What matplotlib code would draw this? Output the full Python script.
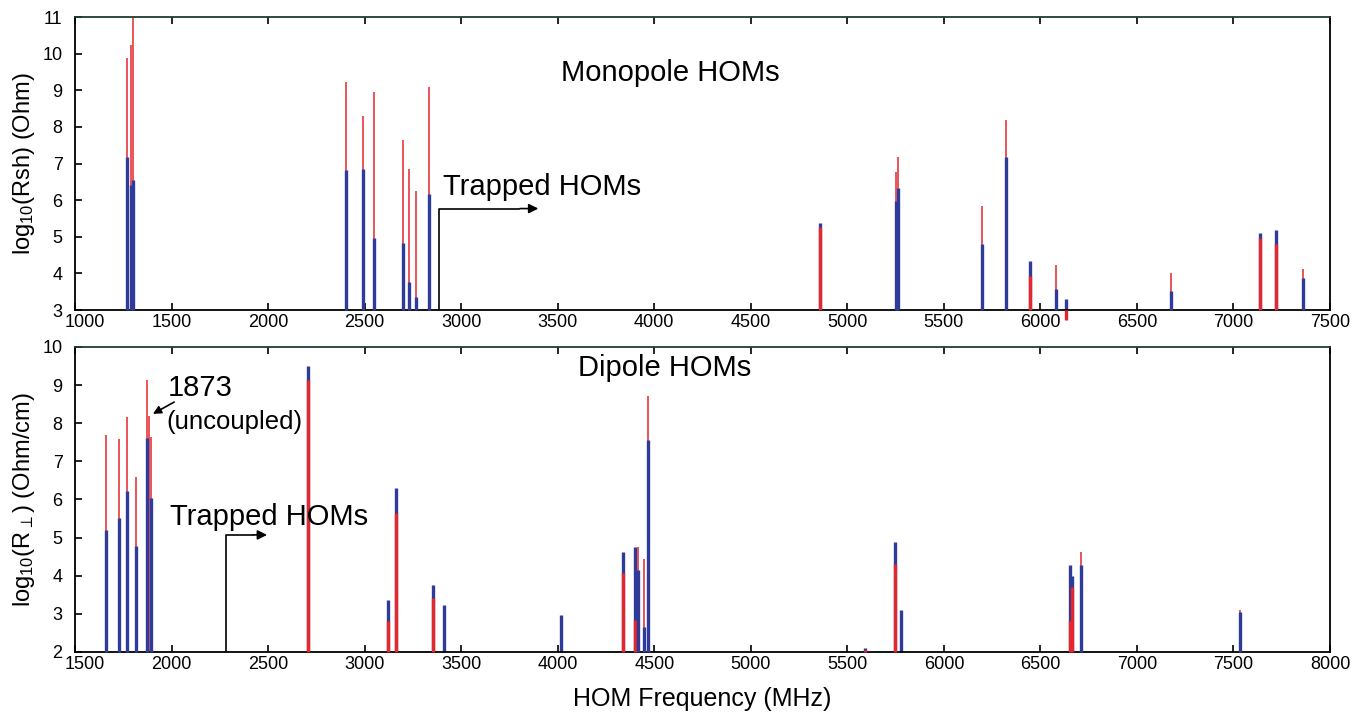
import numpy as np
import matplotlib
matplotlib.use('Agg')
import matplotlib.pyplot as plt
import matplotlib.transforms as mtransforms

plt.rcParams['font.family'] = ['Liberation Sans', 'DejaVu Sans']
plt.rcParams['mathtext.default'] = 'regular'

# monopole modes: frequency (MHz), blue / red log10(Rsh)
mono_freq = [1270, 1288, 1300, 2402, 2492, 2549, 2698, 2728, 2764, 2833,
             4861, 5251, 5263, 5699, 5822, 5946, 6082, 6134, 6677, 7137, 7218, 7359]
mono_blue = [7.19, 6.40, 6.54, 6.81, 6.85, 4.97, 4.83, 3.77, 3.36, 6.17,
             5.38, 5.97, 6.34, 4.81, 7.19, 4.33, 3.57, 3.31, 3.53, 5.10, 5.19, 3.88]
mono_red = [9.89, 10.24, 11.0, 9.23, 8.29, 8.96, 7.63, 6.84, 6.24, 9.08,
            5.27, 6.78, 7.17, 5.83, 8.20, 3.93, 4.24, 2.72, 4.00, 4.98, 4.80, 4.12]

# dipole modes: frequency (MHz), blue / red log10(R_perp)
dip_freq = [1658, 1729, 1771, 1817, 1871, 1883, 1893, 2705, 3121, 3160, 3356, 3409,
            4017, 4340, 4399, 4416, 4447, 4469, 5590, 5749, 5780, 6651, 6665, 6711, 7536]
dip_blue = [5.20, 5.51, 6.21, 4.77, 7.61, np.nan, 6.03, 9.51, 3.36, 6.30, 3.76, 3.23,
            2.97, 4.63, 4.76, 4.15, 2.65, 7.55, 2.10, 4.88, 3.10, 4.27, 3.99, 4.27, 3.06]
dip_red = [7.68, 7.59, 8.16, 6.59, 9.14, 8.19, 7.65, 9.14, 2.80, 5.64, 3.41, np.nan,
           np.nan, 4.07, 2.84, 4.75, 4.44, 8.72, 2.05, 4.31, np.nan, 2.80, 3.70, 4.62, 3.10]

BLUE = '#2f3b98'
RED = '#e4262d'


def draw_modes(ax, freq, blue, red, base):
    for f, b, r in zip(freq, blue, red):
        bb = base if np.isnan(b) else b
        rr = base if np.isnan(r) else r
        if rr > bb:
            # taller red thin line behind the blue bar
            ax.vlines(f, base, rr, color=RED, lw=1.1, zorder=2, clip_on=False)
            if bb > base:
                ax.vlines(f, base, bb, color=BLUE, lw=2.4, zorder=3, clip_on=False)
        else:
            ax.vlines(f, base, bb, color=BLUE, lw=2.4, zorder=2, clip_on=False)
            if not np.isnan(r):
                ax.vlines(f, base, rr, color=RED, lw=2.4, zorder=3, clip_on=False)


def style_axis(ax, xlo, xhi, ylo, yhi):
    ax.set_xlim(xlo, xhi)
    ax.set_ylim(ylo, yhi)
    ax.set_xticks(np.arange(xlo, xhi + 1, 500))
    ax.set_yticks(np.arange(ylo, yhi + 1, 1))
    ax.tick_params(axis='x', direction='in', top=True, length=5, width=1.2,
                   labelsize=13, pad=3)
    ax.tick_params(axis='y', direction='in', right=False, length=5, width=1.2,
                   labelsize=13, pad=9)
    for s in ax.spines.values():
        s.set_linewidth(1.3)
    ax.spines['top'].set_color('#1f3d2f')
    # first x label sits a bit right of its tick, like the original
    lab = ax.get_xticklabels()[0]
    lab.set_transform(lab.get_transform() +
                      mtransforms.ScaledTranslation(10 / 100, 0, ax.figure.dpi_scale_trans))


fig = plt.figure(figsize=(13.64, 7.13), dpi=100)
ax1 = fig.add_axes([0.055, 0.5652, 0.9201, 0.4109])
ax2 = fig.add_axes([0.055, 0.0856, 0.9201, 0.4278])

# monopole
draw_modes(ax1, mono_freq, mono_blue, mono_red, 3)
style_axis(ax1, 1000, 7500, 3, 11)
ax1.set_ylabel(r'log$_{10}$(Rsh) (Ohm)', fontsize=17, labelpad=4)
ax1.text(4083, 9.48, 'Monopole HOMs', fontsize=21, ha='center', va='center')
ax1.text(2904, 6.37, 'Trapped HOMs', fontsize=21, ha='left', va='center')
ax1.plot([2885, 2885, 3300], [3, 5.77, 5.77], color='black', lw=1.2, zorder=4)
ax1.annotate('', xy=(3414, 5.77), xytext=(3290, 5.77),
             arrowprops=dict(arrowstyle='-|>', color='black', lw=1.2,
                             mutation_scale=14))

# dipole
draw_modes(ax2, dip_freq, dip_blue, dip_red, 2)
style_axis(ax2, 1500, 8000, 2, 10)
ax2.set_ylabel(r'log$_{10}$(R$_{\perp}$) (Ohm/cm)', fontsize=17, labelpad=4)
ax2.set_xlabel('HOM Frequency (MHz)', fontsize=18, labelpad=10)
ax2.text(4552, 9.45, 'Dipole HOMs', fontsize=21, ha='center', va='center')
ax2.text(1981, 8.93, '1873', fontsize=21, ha='left', va='center')
ax2.text(1971, 8.04, '(uncoupled)', fontsize=18.5, ha='left', va='center')
ax2.annotate('', xy=(1891, 8.21), xytext=(2026, 8.59),
             arrowprops=dict(arrowstyle='-|>', color='black', lw=1.2,
                             mutation_scale=12))
ax2.text(1991, 5.55, 'Trapped HOMs', fontsize=21, ha='left', va='center')
ax2.plot([2280, 2280, 2420], [2, 5.07, 5.07], color='black', lw=1.2, zorder=4)
ax2.annotate('', xy=(2509, 5.07), xytext=(2410, 5.07),
             arrowprops=dict(arrowstyle='-|>', color='black', lw=1.2,
                             mutation_scale=14))

fig.savefig('out.png', dpi=100)
